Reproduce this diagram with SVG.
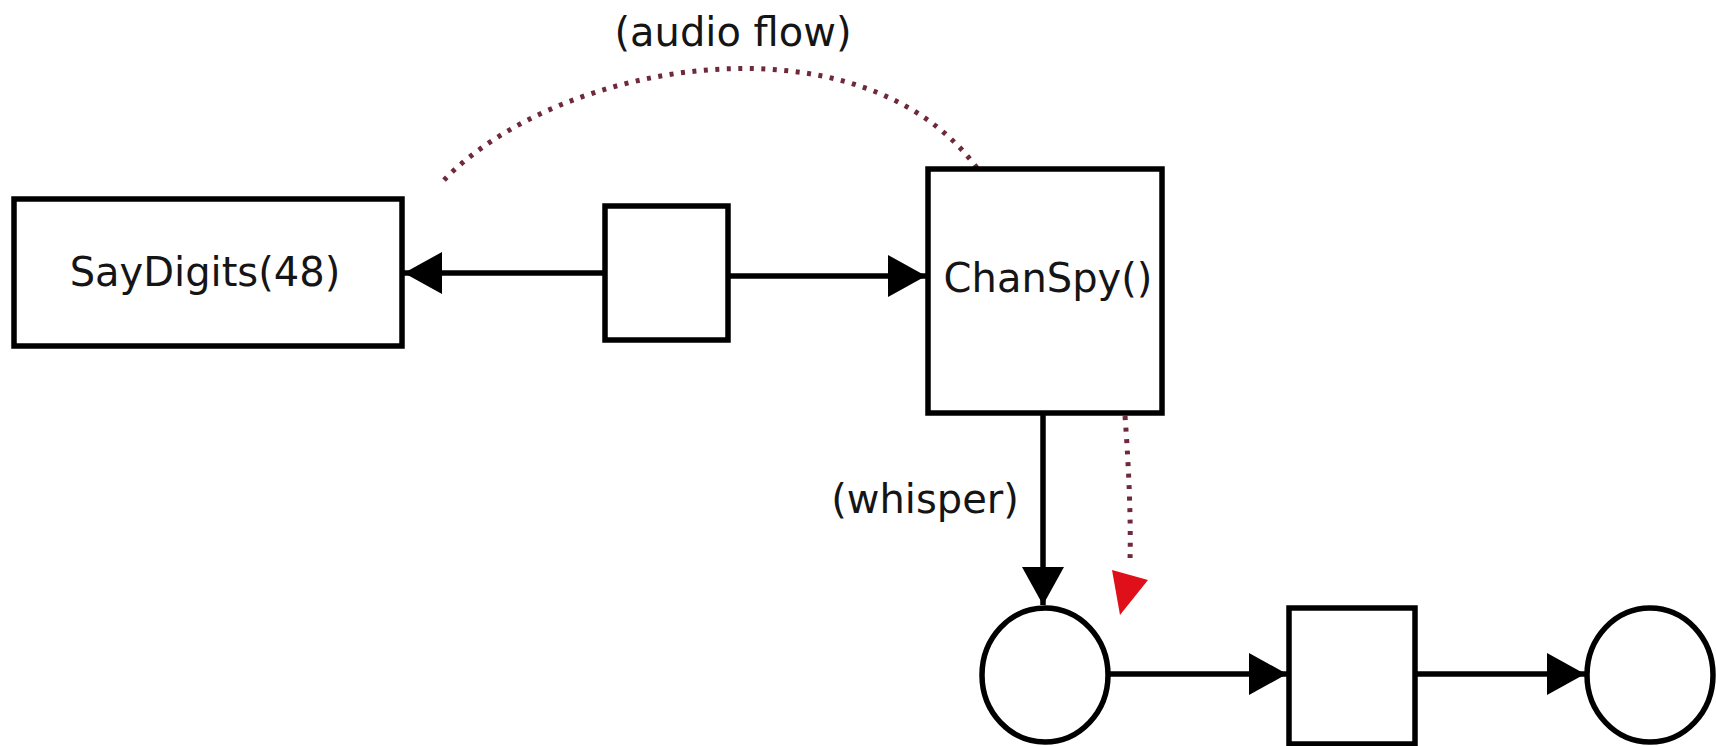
<svg xmlns="http://www.w3.org/2000/svg" width="1716" height="746" viewBox="0 0 1716 746">
<defs>
<style>
.box{fill:#fff;stroke:#000;stroke-width:5.5}
.ln{fill:none;stroke:#000;stroke-width:5.5}
.dot{fill:none;stroke:#6e2a3a;stroke-width:5;stroke-dasharray:4 7.5}
.t{font-family:"DejaVu Sans",sans-serif;font-size:40px;fill:#151515;text-anchor:middle}
</style>
<marker id="ah" viewBox="0 0 38 42" refX="38" refY="21" markerWidth="38" markerHeight="42" markerUnits="userSpaceOnUse" orient="auto">
<path d="M0,0 L38,21 L0,42 Z" fill="#000"/>
</marker>
</defs>
<rect width="1716" height="746" fill="#fff"/>
<g id="connectors">
<line class="ln" x1="605" y1="273" x2="404" y2="273" marker-end="url(#ah)"/>
<line class="ln" x1="728" y1="276" x2="926" y2="276" marker-end="url(#ah)"/>
<line class="ln" x1="1043" y1="413" x2="1043" y2="605" marker-end="url(#ah)"/>
<line class="ln" x1="1108" y1="674" x2="1287" y2="674" marker-end="url(#ah)"/>
<line class="ln" x1="1415" y1="674" x2="1585" y2="674" marker-end="url(#ah)"/>
<path class="dot" d="M444,180 C560,60 860,10 977,168"/>
<path class="dot" d="M1125,416 C1129,470 1131,520 1130,562"/>
<polygon points="1112,570 1148,580 1120,615" fill="#e0101a"/>
</g>
<g id="saydigits">
<rect class="box" x="14" y="199" width="388" height="147"/>
<text class="t" x="205" y="286">SayDigits(48)</text>
</g>
<g id="box1">
<rect class="box" x="605" y="206" width="123" height="134"/>
</g>
<g id="chanspy">
<rect class="box" x="928" y="169" width="234" height="244"/>
<text class="t" x="1048" y="292">ChanSpy()</text>
</g>
<g id="circle1">
<ellipse class="box" cx="1045" cy="675" rx="63" ry="67"/>
</g>
<g id="box2">
<rect class="box" x="1289" y="608" width="126" height="136"/>
</g>
<g id="circle2">
<ellipse class="box" cx="1650" cy="675" rx="63" ry="67"/>
</g>
<g id="labels">
<text class="t" x="733" y="46">(audio flow)</text>
<text class="t" x="925" y="513">(whisper)</text>
</g>
</svg>
